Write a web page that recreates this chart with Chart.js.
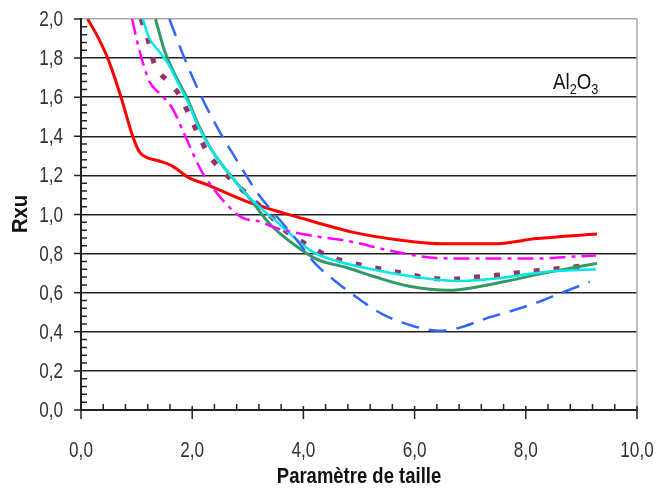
<!DOCTYPE html>
<html>
<head>
<meta charset="utf-8">
<script src="https://cdn.jsdelivr.net/npm/chart.js@4.4.1/dist/chart.umd.min.js"></script>
<style>
  html, body { margin: 0; padding: 0; background: #fff; }
  #wrap { width: 672px; height: 493px; }
</style>
</head>
<body>
<div id="wrap"><canvas id="chart" width="672" height="493"></canvas></div>
<script>
// values
const xRed = [0.12, 0.3, 0.48, 0.72, 0.93, 1.05, 1.2, 1.39, 1.63, 1.93, 2.29, 2.95, 3.98, 4.88, 5.79, 6.51, 7.41, 8.2, 9.28];
const yRed = [2.0, 1.91, 1.80, 1.60, 1.40, 1.32, 1.29, 1.275, 1.25, 1.19, 1.15, 1.07, 0.98, 0.91, 0.867, 0.85, 0.85, 0.877, 0.90];

const xMagenta = [0.92, 1.05, 1.23, 1.41, 1.63, 1.86, 2.17, 2.31, 2.53, 2.89, 3.2, 3.47, 3.98, 4.88, 5.48, 6.27, 6.75, 7.6, 8.2, 8.9, 9.26];
const yMagenta = [2.0, 1.84, 1.68, 1.62, 1.55, 1.41, 1.22, 1.16, 1.08, 0.985, 0.965, 0.935, 0.90, 0.86, 0.82, 0.78, 0.775, 0.775, 0.775, 0.785, 0.79];

const xCyan = [1.11, 1.23, 1.39, 1.57, 1.75, 1.93, 2.11, 2.35, 2.66, 3.02, 3.49, 4.16, 4.57, 5.06, 5.6, 6.38, 6.87, 7.47, 8.3, 9.26];
const yCyan = [2.0, 1.90, 1.84, 1.77, 1.67, 1.57, 1.45, 1.33, 1.21, 1.09, 0.97, 0.81, 0.765, 0.73, 0.70, 0.668, 0.66, 0.673, 0.705, 0.72];

const xPurple = [1.08, 1.21, 1.32, 1.57, 1.75, 1.93, 2.11, 2.29, 2.66, 3.04, 3.38, 3.71, 4.1, 4.43, 4.83, 5.24, 5.79, 6.15, 6.63, 7.1, 7.5, 7.96, 8.44, 8.82, 9.22];
const yPurple = [2.0, 1.89, 1.77, 1.68, 1.62, 1.52, 1.41, 1.31, 1.19, 1.09, 1.0, 0.91, 0.84, 0.79, 0.755, 0.73, 0.70, 0.68, 0.668, 0.68, 0.69, 0.705, 0.72, 0.73, 0.745];

const xGreen = [1.34, 1.5, 1.68, 1.9, 2.11, 2.35, 2.66, 3.07, 3.4, 3.98, 4.29, 4.76, 5.3, 5.9, 6.63, 7.1, 7.72, 8.32, 8.8, 9.28];
const yGreen = [2.0, 1.84, 1.72, 1.60, 1.46, 1.33, 1.21, 1.07, 0.95, 0.816, 0.765, 0.73, 0.68, 0.633, 0.612, 0.628, 0.663, 0.70, 0.725, 0.75];

const xBlue = [1.59, 1.86, 2.17, 2.48, 2.84, 3.2, 3.49, 3.85, 4.21, 4.57, 4.94, 5.42, 5.97, 6.45, 6.8, 7.3, 7.78, 8.2, 8.62, 9.15];
const yBlue = [2.0, 1.80, 1.60, 1.43, 1.26, 1.10, 1.0, 0.88, 0.75, 0.66, 0.58, 0.49, 0.43, 0.405, 0.42, 0.47, 0.51, 0.55, 0.597, 0.655];

const xTicks = [0, 2, 4, 6, 8, 10];
const yTicks = [0, 0.2, 0.4, 0.6, 0.8, 1.0, 1.2, 1.4, 1.6, 1.8, 2.0];

const xTitle = 'Paramètre de taille';
const yTitle = 'Rxu';

const pts = (xs, ys) => xs.map((x, i) => ({x: x, y: ys[i]}));
const fmt = v => v.toFixed(1).replace('.', ',');

const sans = '"Liberation Sans", Arial, sans-serif';

// narrow text: squeeze horizontally like the original condensed font
function narrowText(ctx, text, x, y, sx) {
    ctx.save();
    ctx.translate(x, y);
    ctx.scale(sx, 1);
    ctx.fillText(text, 0, 0);
    ctx.restore();
}

// tick labels, minor/major tick marks, right border, titles and Al2O3 label
const decorPlugin = {
    id: 'decor',
    afterDraw(chart) {
        const ctx = chart.ctx;
        const a = chart.chartArea;
        const xs = chart.scales.x, ys = chart.scales.y;
        ctx.save();
        ctx.strokeStyle = '#a8a8a8';
        ctx.lineWidth = 1.5;
        ctx.beginPath();
        ctx.moveTo(a.right, a.top);
        ctx.lineTo(a.right, a.bottom);
        ctx.stroke();

        ctx.strokeStyle = '#222';
        ctx.lineWidth = 1.5;
        ctx.beginPath();
        for (let i = 0; i <= 25; i++) {
            const px = xs.getPixelForValue(i * 0.4);
            if (i % 5 === 0) {
                ctx.moveTo(px, a.bottom - 4);
                ctx.lineTo(px, a.bottom + 9);
            } else {
                ctx.moveTo(px, a.bottom - 6);
                ctx.lineTo(px, a.bottom);
            }
        }
        for (let i = 0; i <= 50; i++) {
            const py = ys.getPixelForValue(i * 0.04);
            if (i % 5 === 0) {
                ctx.moveTo(a.left - 7, py);
                ctx.lineTo(a.left, py);
            } else {
                ctx.moveTo(a.left, py);
                ctx.lineTo(a.left + 6, py);
            }
        }
        ctx.stroke();

        // tick labels
        ctx.fillStyle = '#333';
        ctx.font = '22px ' + sans;
        ctx.textBaseline = 'middle';
        ctx.textAlign = 'right';
        yTicks.forEach(v => narrowText(ctx, fmt(v), a.left - 18, ys.getPixelForValue(v) + 1, 0.78));
        ctx.textAlign = 'center';
        xTicks.forEach(v => narrowText(ctx, fmt(v), xs.getPixelForValue(v), a.bottom + 41, 0.78));

        // axis titles
        ctx.fillStyle = '#111';
        ctx.font = 'bold 22px ' + sans;
        ctx.textAlign = 'center';
        narrowText(ctx, xTitle, (a.left + a.right) / 2, 477, 0.84);

        ctx.save();
        ctx.translate(21, 214);
        ctx.rotate(-Math.PI / 2);
        narrowText(ctx, yTitle, 0, 0, 0.92);
        ctx.restore();

        // Al2O3 label
        ctx.fillStyle = '#111';
        ctx.textAlign = 'left';
        ctx.textBaseline = 'alphabetic';
        const sx = 0.85;
        let x = 553;
        const base = 89;
        const big = '22px ' + sans, small = '15px ' + sans;
        [['Al', big, 0], ['2', small, 5], ['O', big, 0], ['3', small, 5]].forEach(p => {
            ctx.font = p[1];
            narrowText(ctx, p[0], x, base + p[2], sx);
            x += ctx.measureText(p[0]).width * sx;
        });
        ctx.restore();
    }
};

const line = (label, data, color, width, dash) => ({
    label: label,
    data: data,
    borderColor: color,
    backgroundColor: color,
    borderWidth: width,
    borderDash: dash,
    borderCapStyle: 'butt',
    pointRadius: 0,
    cubicInterpolationMode: 'monotone',
    fill: false
});

new Chart(document.getElementById('chart'), {
    type: 'line',
    data: {
        datasets: [
            line('bleu', pts(xBlue, yBlue), '#3366ff', 2.5, [18, 10]),
            line('magenta', pts(xMagenta, yMagenta), '#ff00ff', 2.5, [16, 6, 4, 6]),
            line('cyan', pts(xCyan, yCyan), '#00e8e8', 2.5, []),
            line('vert', pts(xGreen, yGreen), '#339966', 3, []),
            line('violet', pts(xPurple, yPurple), '#993366', 5, [6, 14]),
            line('rouge', pts(xRed, yRed), '#ff0000', 3, [])
        ]
    },
    options: {
        responsive: false,
        animation: false,
        layout: { padding: { left: 0, top: 19, right: 35, bottom: 0 } },
        plugins: { legend: { display: false }, tooltip: { enabled: false } },
        scales: {
            x: {
                type: 'linear',
                min: 0, max: 10,
                afterBuildTicks: s => { s.ticks = xTicks.map(v => ({value: v})); },
                afterFit: s => { s.height = 83; },
                ticks: { display: false },
                grid: { display: false, drawTicks: false },
                border: { display: true, color: '#222', width: 2 }
            },
            y: {
                min: 0, max: 2,
                afterBuildTicks: s => { s.ticks = yTicks.map(v => ({value: v})); },
                afterFit: s => { s.width = 81; },
                ticks: { display: false },
                grid: {
                    drawTicks: false,
                    color: c => c.tick && Math.abs(c.tick.value - 2) < 1e-6 ? '#a8a8a8' : '#222',
                    lineWidth: 1.5
                },
                border: { display: true, color: '#222', width: 2 }
            }
        }
    },
    plugins: [decorPlugin]
});
</script>
</body>
</html>
